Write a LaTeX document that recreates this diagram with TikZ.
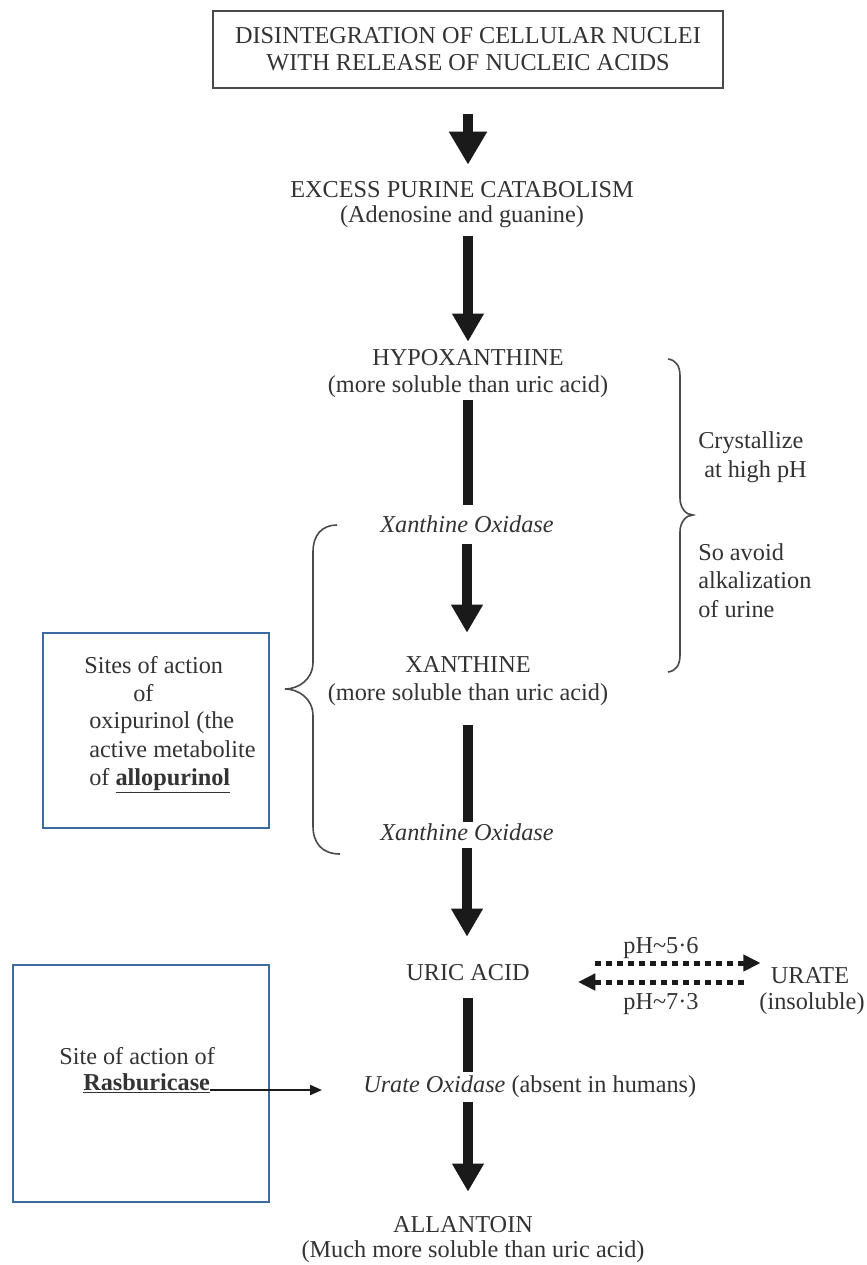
\documentclass[tikz,border=0pt]{standalone}
\usepackage{fontspec}
\setmainfont{Liberation Serif}
\usetikzlibrary{arrows.meta}
\definecolor{txtc}{HTML}{333333}
\definecolor{arrc}{HTML}{1A1A1A}
\definecolor{boxblue}{HTML}{3D6BA0}
\definecolor{boxgray}{HTML}{4A4A4A}
\begin{document}
\begin{tikzpicture}[x=0.75pt, y=-0.75pt,
  t/.style={font=\fontsize{18.2}{21}\selectfont, text=txtc, inner sep=0pt, anchor=base},
  ti/.style={t, font=\fontsize{18.2}{21}\selectfont\itshape},
  tl/.style={t, anchor=base west},
  flow/.style={draw=arrc, line width=7.5pt},
  flowarr/.style={flow, -{Triangle[length=21pt,width=22.5pt]}},
  firstarr/.style={flow, -{Triangle[length=24.75pt,width=27pt]}},
  dotarr/.style={draw=arrc, line width=3.75pt, dash pattern=on 4.5pt off 3.75pt,
    -{Triangle[length=13pt,width=12pt]}},
  thinarr/.style={draw=arrc, line width=1.5pt, -{Triangle[length=9pt,width=7.5pt]}},
  bluebox/.style={draw=boxblue, line width=1.8pt, inner sep=0pt},
  topbox/.style={draw=boxgray, line width=1.6pt, inner sep=0pt, align=center,
    font=\fontsize{18.2}{20.25}\selectfont, text=txtc,
    minimum width=382.5pt, minimum height=57.75pt},
  bracepath/.style={draw=boxgray, line width=1.2pt}
]
\fill[white] (0,0) rectangle (867,1265);
\path[use as bounding box] (0,0) rectangle (867,1265);

% main column
\node[topbox] (top) at (468,49.5) {DISINTEGRATION OF CELLULAR NUCLEI\\WITH RELEASE OF NUCLEIC ACIDS};
\node[t] (excess1) at (462,197) {EXCESS PURINE CATABOLISM};
\node[t] (excess2) at (462,222) {(Adenosine and guanine)};
\node[t] (hypo1) at (468,365) {HYPOXANTHINE};
\node[t] (hypo2) at (468,392) {(more soluble than uric acid)};
\node[ti] (xo1) at (467,532) {Xanthine Oxidase};
\node[t] (xan1) at (468,672) {XANTHINE};
\node[t] (xan2) at (468,700) {(more soluble than uric acid)};
\node[ti] (xo2) at (467,840) {Xanthine Oxidase};
\node[t] (uric) at (468,980) {URIC ACID};
\node[tl] (uo) at (363,1092) {\textit{Urate Oxidase} (absent in humans)};
\node[t] (allan1) at (463,1232) {ALLANTOIN};
\node[t] (allan2) at (473,1257) {(Much more soluble than uric acid)};

% thick flow arrows
\draw[firstarr, shorten <=18.75pt, shorten >=12pt] (top.south) -- (top.south |- excess1.north);
\draw[flowarr, shorten <=6pt, shorten >=5.25pt] (excess2.south -| hypo1.north) -- (hypo1.north);
\draw[flow, shorten <=2pt, shorten >=7.5pt] (hypo2.south) -- (hypo2.south |- xo1.north);
\draw[flowarr, shorten <=8.25pt, shorten >=17.25pt] (xo1.south) -- (xo1.south |- xan1.north);
\draw[flow, shorten <=15pt, shorten >=1pt] (xan2.south) -- (xan2.south |- xo2.north);
\draw[flowarr, shorten <=5.25pt, shorten >=20.25pt] (xo2.south) -- (xo2.south |- uric.north);
\draw[flow, shorten <=12.75pt, shorten >=2.25pt] (uric.south) -- (uric.south |- uo.north);
\draw[flowarr, shorten <=3.75pt, shorten >=18pt] (uric.south |- uo.south) -- (uric.south |- allan1.north);

% right brace and notes
\draw[bracepath] (668,359) .. controls (676,360) and (680,366) .. (680,376) -- (680,498)
  .. controls (680,508) and (686,515) .. (693,515)
  .. controls (686,515) and (680,522) .. (680,532) -- (680,655)
  .. controls (680,665) and (676,671) .. (668,672);
\node[tl] (cr1) at (698,448) {Crystallize};
\node[tl] (cr2) at (704,477) {at high pH};
\node[tl] (av1) at (698,560) {So avoid};
\node[tl] (av2) at (698,588) {alkalization};
\node[tl] (av3) at (698,617) {of urine};

% left brace and allopurinol box
\draw[bracepath] (337,525) .. controls (322,525) and (313,535) .. (313,552) -- (313,662)
  .. controls (313,680) and (298,689) .. (285,689)
  .. controls (298,689) and (313,698) .. (313,716) -- (313,826)
  .. controls (313,843) and (322,854) .. (340,854);
\node[bluebox, minimum width=169.5pt, minimum height=146.25pt] (box1) at (156,730.5) {};
\node[tl] (sa1) at (84,673) {Sites of action};
\node[tl] (sa2) at (133,701) {of};
\node[tl] (sa3) at (89,728) {oxipurinol (the};
\node[tl] (sa4) at (89,757) {active metabolite};
\node[tl] (sa5) at (89,785) {of \underline{\textbf{allopurinol}}};

% rasburicase box
\node[bluebox, minimum width=192pt, minimum height=177.75pt] (box2) at (141,1083.5) {};
\node[tl] (rs1) at (59,1064) {Site of action of};
\node[tl] (rs2) at (83,1090) {\underline{\textbf{Rasburicase}}};
\draw[thinarr, shorten >=30.75pt] (rs2.base east) -- (rs2.base east -| uo.west);

% urate equilibrium
\node[t] (ur1) at (810,983) {URATE};
\node[t] (ur2) at (812,1009) {(insoluble)};
\node[t] (ph1) at (661,953) {pH\textasciitilde 5·6};
\node[t] (ph2) at (661,1009) {pH\textasciitilde 7·3};
\draw[dotarr] ([shift={(65,-17)}]uric.base east) -- ([shift={(-10,-20)}]ur1.base west);
\draw[dotarr] ([shift={(-27,-1)}]ur1.base west) -- ([shift={(48,2)}]uric.base east);
\end{tikzpicture}
\end{document}
